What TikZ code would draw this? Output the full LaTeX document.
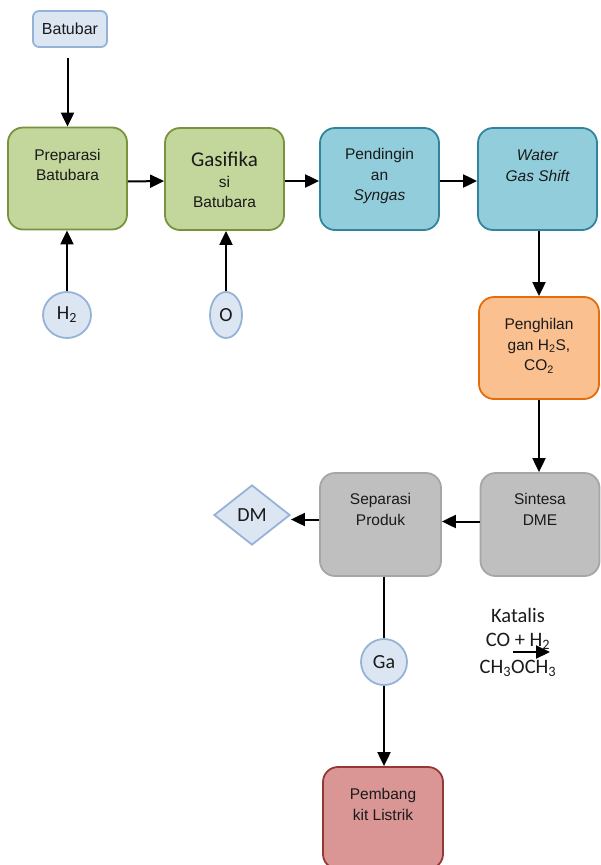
\documentclass[tikz,border=0pt]{standalone}
\usepackage{fontspec}
\setmainfont{Liberation Sans}
\newfontfamily\calib{Carlito}
\usetikzlibrary{shapes.geometric,arrows.meta}
\definecolor{gfill}{HTML}{C3D69B}\definecolor{gdraw}{HTML}{77933C}
\definecolor{bfill}{HTML}{92CDDC}\definecolor{bdraw}{HTML}{31849B}
\definecolor{ofill}{HTML}{FAC090}\definecolor{odraw}{HTML}{E46C0A}
\definecolor{grfill}{HTML}{BFBFBF}\definecolor{grdraw}{HTML}{A6A6A6}
\definecolor{rfill}{HTML}{D99694}\definecolor{rdraw}{HTML}{953735}
\definecolor{lfill}{HTML}{DCE6F2}\definecolor{ldraw}{HTML}{95B3D7}
\definecolor{ink}{HTML}{1A1A1A}
\tikzset{
  procbox/.style={draw, line width=1.8pt, rounded corners=15pt, minimum width=119pt, minimum height=102pt, inner sep=0pt},
  txt/.style={align=center, text=ink, font=\fontsize{15.5}{20.5}\selectfont, inner sep=0pt},
  ctxt/.style={align=center, text=ink, font=\calib\fontsize{20.5}{26}\selectfont, inner sep=0pt},
  arr/.style={line width=2pt, -{Triangle[length=14pt,width=13pt]}},
  lin/.style={line width=2pt},
  inbub/.style={draw=ldraw, fill=lfill, line width=1.8pt, inner sep=0pt, text=ink, font=\calib\fontsize{20}{22}\selectfont}
}
\begin{document}
\begin{tikzpicture}[x=1pt,y=-1pt]
\useasboundingbox (0,0) rectangle (600,865);
% boxes
\node[draw=ldraw, fill=lfill, line width=1.8pt, rounded corners=6pt, minimum width=74pt, minimum height=36pt, inner sep=0pt, text=ink, font=\fontsize{16}{18}\selectfont] (bat) at (70,29) {Batubar};
\node[procbox, draw=gdraw, fill=gfill] (prep) at (67.5,178.5) {};
\node[procbox, draw=gdraw, fill=gfill] (gas) at (224.5,179) {};
\node[procbox, draw=bdraw, fill=bfill] (pend) at (379.5,179) {};
\node[procbox, draw=bdraw, fill=bfill] (wgs) at (537.5,179) {};
\node[procbox, draw=odraw, fill=ofill, minimum width=120pt] (peng) at (539,348) {};
\node[procbox, draw=grdraw, fill=grfill, minimum height=103pt] (sint) at (540,524.5) {};
\node[procbox, draw=grdraw, fill=grfill, minimum width=121pt, minimum height=103pt] (sep) at (380.5,524.5) {};
\node[procbox, draw=rdraw, fill=rfill, minimum width=120pt] (pemb) at (383,818) {};
% texts
\node[txt] (tprep) at (67.5,165) {Preparasi\\Batubara};
\node[txt] (tgas) at (224.5,180) {{\calib\fontsize{21}{23}\selectfont Gasifika}\\si\\Batubara};
\node[txt] (tpend) at (379.5,176) {Pendingin\\an\\\itshape Syngas};
\node[txt, font=\itshape\fontsize{15.5}{20.5}\selectfont] (twgs) at (537.5,165.5) {Water\\Gas Shift};
\node[txt] (tpeng) at (539,346) {Penghilan\\gan H\textsubscript{2}S,\\CO\textsubscript{2}};
\node[txt] (tsint) at (540,509.5) {Sintesa\\DME};
\node[txt] (tsep) at (380.5,509.5) {Separasi\\Produk};
\node[txt] (tpemb) at (383,804.5) {Pembang\\kit Listrik};
% bubbles
\node[inbub, ellipse, minimum width=48pt, minimum height=46pt] (h2) at (67,315) {H\textsubscript{2}};
\node[inbub, ellipse, minimum width=32pt, minimum height=46pt] (o) at (226,315) {O};
\node[inbub, circle, minimum size=46pt] (ga) at (384,662) {Ga};
\node[inbub, diamond, minimum width=76pt, minimum height=60pt] (dm) at (252,515) {DM};
% katalis
\node[ctxt] (kat) at (518,615) {Katalis};
\node[ctxt] (co) at (518,641) {CO + H\textsubscript{2}};
\node[ctxt] (ch) at (518,668) {CH\textsubscript{3}OCH\textsubscript{3}};
\coordinate (ka) at (513,652);
\coordinate (kb) at (550,652);
\draw[arr] (ka) -- (kb);
% connectors
\draw[arr, shorten <=10pt] (bat.south -| prep.north) -- (prep.north);
\draw[arr] (h2.north) -- (prep.south -| h2.north);
\draw[arr] (o.north) -- (gas.south -| o.north);
\draw[arr] ([yshift=-3pt]prep.east) -- ([yshift=-2pt]gas.west);
\draw[arr] ([yshift=-2pt]gas.east) -- ([yshift=-2pt]pend.west);
\draw[arr] ([yshift=-2pt]pend.east) -- ([yshift=-2pt]wgs.west);
\draw[arr] (wgs.south -| peng.north) -- (peng.north);
\draw[arr] (peng.south) -- (sint.north -| peng.south);
\draw[arr] ([yshift=3pt]sint.west) -- ([yshift=3pt]sep.east);
\draw[arr] ([yshift=5pt]sep.west) -- ([yshift=5pt]sep.west -| dm.east);
\draw[lin] (ga.north |- sep.south) -- (ga.north);
\draw[arr] (ga.south) -- (pemb.north -| ga.south);
\end{tikzpicture}
\end{document}
